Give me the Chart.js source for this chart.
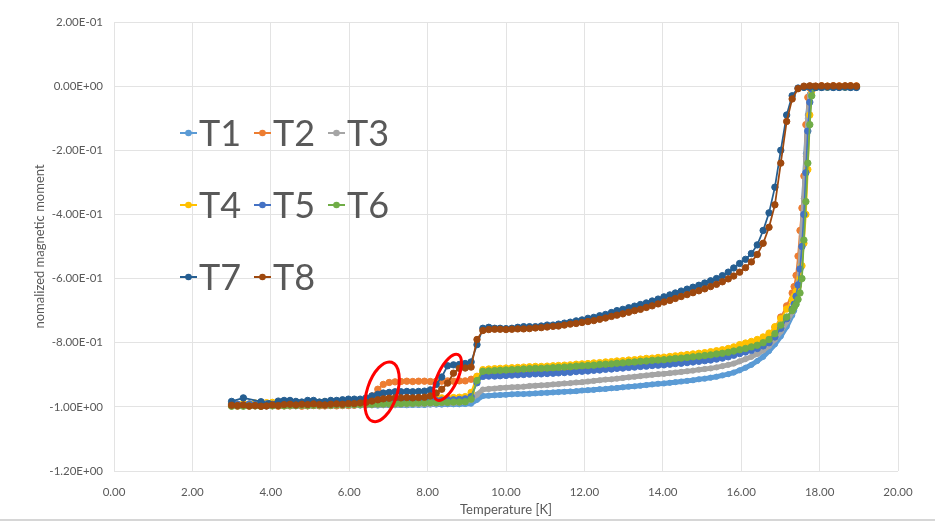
<!DOCTYPE html>
<html>
<head>
<meta charset="utf-8">
<title>Normalized magnetic moment vs temperature</title>
<script src="https://cdn.jsdelivr.net/npm/chart.js@4.4.1/dist/chart.umd.min.js"></script>
<style>
  html, body { margin: 0; padding: 0; background: #ffffff; }
  #wrap { position: relative; width: 935px; height: 522px; }
</style>
</head>
<body>
<div id="wrap"><canvas id="chart" width="935" height="522"></canvas></div>
<script>
// Temperature points of the stepped sweep (K)
const tempSweep = [
  3.00, 3.15, 3.30, 3.45, 3.60, 3.75, 3.89, 4.04, 4.19, 4.34,
  4.49, 4.64, 4.79, 4.94, 5.09, 5.24, 5.38, 5.53, 5.68, 5.83,
  5.98, 6.13, 6.28, 6.43, 6.58, 6.73, 6.87, 7.02, 7.17, 7.32,
  7.47, 7.62, 7.77, 7.92, 8.07, 8.22, 8.36, 8.51, 8.66, 8.81,
  8.96, 9.11, 9.26, 9.41, 9.56, 9.71, 9.85, 10.00, 10.15, 10.30,
  10.45, 10.60, 10.75, 10.90, 11.05, 11.20, 11.34, 11.49, 11.64, 11.79,
  11.94, 12.09, 12.24, 12.39, 12.54, 12.69, 12.83, 12.98, 13.13, 13.28,
  13.43, 13.58, 13.73, 13.88, 14.03, 14.18, 14.32, 14.47, 14.62, 14.77,
  14.92, 15.07, 15.22, 15.37, 15.52, 15.67, 15.81, 15.96, 16.11, 16.26,
  16.41, 16.56, 16.71, 16.86, 17.01, 17.16, 17.30, 17.45, 17.60, 17.75,
  17.90, 18.05, 18.20, 18.35, 18.50, 18.65, 18.79, 18.94
];
// T7 starts with a few irregular points before joining the sweep
const tempSweepT7 = [3.00, 3.30, 3.75, 3.95].concat(tempSweep.slice(8));
// T1..T6: same sweep, finer steps through the transition
const tempFine = tempSweep.slice(0, 97).concat([
  17.35, 17.40, 17.45, 17.50, 17.55, 17.60, 17.65, 17.70, 17.75, 17.80, 17.85, 17.90,
  18.05, 18.20, 18.35, 18.50, 18.65, 18.79, 18.94
]);

const seriesNames = ['T1', 'T2', 'T3', 'T4', 'T5', 'T6', 'T7', 'T8'];

const momentT1 = [
  -0.998,-0.999,-0.998,-0.999,-0.998,-0.998,-0.999,-0.998,-0.998,-0.997,
  -0.998,-0.998,-0.997,-0.998,-0.997,-0.997,-0.998,-0.997,-0.997,-0.996,
  -0.997,-0.996,-0.996,-0.996,-0.995,-0.996,-0.995,-0.995,-0.995,-0.994,
  -0.995,-0.994,-0.994,-0.994,-0.993,-0.993,-0.993,-0.992,-0.992,-0.992,
  -0.991,-0.990,-0.978,-0.966,-0.965,-0.964,-0.963,-0.962,-0.961,-0.960,
  -0.960,-0.959,-0.958,-0.957,-0.956,-0.955,-0.954,-0.953,-0.952,-0.951,
  -0.949,-0.948,-0.947,-0.945,-0.944,-0.942,-0.941,-0.939,-0.937,-0.936,
  -0.934,-0.932,-0.930,-0.928,-0.927,-0.925,-0.923,-0.921,-0.919,-0.917,
  -0.914,-0.912,-0.909,-0.906,-0.902,-0.898,-0.893,-0.886,-0.878,-0.869,
  -0.857,-0.844,-0.826,-0.805,-0.780,-0.750,-0.715,
  -0.700,-0.675,-0.635,-0.570,-0.470,-0.350,-0.210,-0.090,-0.025,-0.006,-0.005,-0.005,
  -0.005,-0.004,-0.005,-0.005,-0.004,-0.005,-0.005
];
const momentT2 = [
  -0.997,-0.998,-0.996,-0.998,-0.997,-0.998,-0.997,-0.996,-0.998,-0.997,
  -0.997,-0.996,-0.998,-0.997,-0.996,-0.997,-0.997,-0.996,-0.997,-0.996,
  -0.996,-0.995,-0.990,-0.982,-0.966,-0.945,-0.930,-0.924,-0.922,-0.921,
  -0.920,-0.921,-0.920,-0.920,-0.921,-0.920,-0.920,-0.919,-0.920,-0.919,
  -0.919,-0.914,-0.905,-0.897,-0.898,-0.898,-0.898,-0.898,-0.897,-0.896,
  -0.895,-0.894,-0.894,-0.893,-0.893,-0.892,-0.891,-0.890,-0.889,-0.887,
  -0.886,-0.885,-0.883,-0.882,-0.880,-0.879,-0.877,-0.876,-0.874,-0.873,
  -0.871,-0.869,-0.868,-0.866,-0.865,-0.863,-0.861,-0.859,-0.857,-0.855,
  -0.853,-0.850,-0.847,-0.844,-0.841,-0.837,-0.833,-0.828,-0.820,-0.811,
  -0.800,-0.789,-0.775,-0.752,-0.720,-0.685,-0.645,
  -0.625,-0.590,-0.530,-0.450,-0.380,-0.280,-0.120,-0.035,-0.006,-0.002,-0.001,0.000,
  0.001,0.000,0.001,0.001,0.000,0.001,0.001
];
const momentT3 = [
  -0.997,-0.996,-0.997,-0.997,-0.996,-0.997,-0.996,-0.997,-0.996,-0.996,
  -0.997,-0.996,-0.996,-0.996,-0.995,-0.996,-0.996,-0.995,-0.995,-0.996,
  -0.995,-0.995,-0.995,-0.994,-0.995,-0.994,-0.994,-0.993,-0.994,-0.993,
  -0.993,-0.992,-0.992,-0.991,-0.991,-0.990,-0.989,-0.988,-0.988,-0.987,
  -0.985,-0.978,-0.962,-0.946,-0.944,-0.943,-0.941,-0.940,-0.939,-0.938,
  -0.937,-0.935,-0.934,-0.933,-0.932,-0.930,-0.929,-0.927,-0.926,-0.924,
  -0.923,-0.921,-0.919,-0.917,-0.915,-0.914,-0.912,-0.910,-0.908,-0.906,
  -0.904,-0.902,-0.900,-0.898,-0.897,-0.895,-0.893,-0.891,-0.889,-0.887,
  -0.884,-0.882,-0.880,-0.877,-0.873,-0.869,-0.865,-0.858,-0.851,-0.844,
  -0.835,-0.824,-0.810,-0.790,-0.765,-0.735,-0.705,
  -0.690,-0.665,-0.625,-0.560,-0.460,-0.350,-0.220,-0.100,-0.030,-0.007,-0.005,-0.005,
  -0.004,-0.005,-0.004,-0.004,-0.005,-0.004,-0.004
];
const momentT4 = [
  -0.990,-0.992,-0.989,-0.991,-0.988,-0.990,-0.987,-0.986,-0.988,-0.985,
  -0.986,-0.985,-0.987,-0.985,-0.984,-0.986,-0.984,-0.983,-0.984,-0.982,
  -0.983,-0.981,-0.982,-0.980,-0.980,-0.979,-0.978,-0.977,-0.977,-0.976,
  -0.976,-0.975,-0.975,-0.974,-0.974,-0.973,-0.972,-0.972,-0.971,-0.970,
  -0.968,-0.955,-0.905,-0.884,-0.882,-0.881,-0.880,-0.879,-0.878,-0.877,
  -0.876,-0.875,-0.874,-0.874,-0.873,-0.872,-0.871,-0.870,-0.869,-0.867,
  -0.866,-0.865,-0.863,-0.862,-0.860,-0.859,-0.857,-0.856,-0.854,-0.853,
  -0.851,-0.849,-0.848,-0.846,-0.845,-0.843,-0.841,-0.839,-0.837,-0.835,
  -0.833,-0.831,-0.828,-0.825,-0.822,-0.818,-0.813,-0.806,-0.801,-0.796,
  -0.790,-0.782,-0.770,-0.750,-0.725,-0.695,-0.665,
  -0.655,-0.640,-0.625,-0.600,-0.560,-0.490,-0.400,-0.260,-0.090,-0.015,-0.003,-0.002,
  -0.002,-0.001,-0.002,-0.002,-0.001,-0.002,-0.002
];
const momentT5 = [
  -0.993,-0.992,-0.994,-0.991,-0.993,-0.992,-0.991,-0.992,-0.990,-0.991,
  -0.990,-0.991,-0.990,-0.989,-0.990,-0.989,-0.989,-0.988,-0.989,-0.988,
  -0.988,-0.987,-0.987,-0.986,-0.985,-0.985,-0.984,-0.984,-0.983,-0.983,
  -0.982,-0.982,-0.981,-0.981,-0.980,-0.980,-0.979,-0.978,-0.978,-0.977,
  -0.975,-0.968,-0.925,-0.905,-0.904,-0.904,-0.903,-0.902,-0.901,-0.900,
  -0.899,-0.898,-0.897,-0.897,-0.896,-0.895,-0.894,-0.893,-0.892,-0.890,
  -0.889,-0.888,-0.886,-0.885,-0.883,-0.882,-0.880,-0.879,-0.877,-0.876,
  -0.874,-0.873,-0.871,-0.870,-0.869,-0.867,-0.865,-0.864,-0.862,-0.860,
  -0.858,-0.856,-0.854,-0.851,-0.848,-0.844,-0.839,-0.834,-0.829,-0.824,
  -0.818,-0.810,-0.800,-0.782,-0.755,-0.725,-0.695,
  -0.680,-0.655,-0.620,-0.570,-0.500,-0.400,-0.270,-0.140,-0.050,-0.010,-0.003,-0.002,
  -0.003,-0.002,-0.003,-0.003,-0.002,-0.003,-0.003
];
const momentT6 = [
  -0.998,-0.997,-0.998,-0.997,-0.997,-0.998,-0.996,-0.997,-0.996,-0.997,
  -0.996,-0.996,-0.995,-0.996,-0.995,-0.995,-0.994,-0.995,-0.994,-0.994,
  -0.993,-0.993,-0.993,-0.992,-0.992,-0.991,-0.991,-0.991,-0.990,-0.990,
  -0.989,-0.989,-0.988,-0.988,-0.987,-0.987,-0.986,-0.986,-0.985,-0.985,
  -0.984,-0.976,-0.918,-0.889,-0.888,-0.887,-0.886,-0.885,-0.884,-0.883,
  -0.882,-0.881,-0.880,-0.880,-0.879,-0.878,-0.877,-0.876,-0.875,-0.873,
  -0.872,-0.871,-0.870,-0.868,-0.867,-0.866,-0.864,-0.863,-0.861,-0.860,
  -0.858,-0.857,-0.855,-0.854,-0.853,-0.851,-0.849,-0.848,-0.846,-0.844,
  -0.842,-0.840,-0.838,-0.835,-0.833,-0.830,-0.826,-0.822,-0.818,-0.813,
  -0.808,-0.800,-0.790,-0.772,-0.745,-0.720,-0.700,
  -0.690,-0.680,-0.665,-0.645,-0.600,-0.480,-0.360,-0.240,-0.120,-0.030,-0.005,-0.003,
  -0.002,-0.003,-0.002,-0.002,-0.003,-0.002,-0.002
];
const momentT7 = [
  -0.983,-0.972,-0.984,-0.990,
  -0.982,-0.980,
  -0.980,-0.983,-0.985,-0.980,-0.980,-0.985,-0.983,-0.980,-0.980,-0.978,
  -0.976,-0.976,-0.976,-0.972,-0.966,-0.961,-0.957,-0.955,-0.953,-0.953,
  -0.952,-0.953,-0.952,-0.951,-0.947,-0.930,-0.907,-0.872,-0.869,-0.868,
  -0.865,-0.860,-0.806,-0.755,-0.752,-0.755,-0.755,-0.756,-0.755,-0.752,
  -0.750,-0.750,-0.750,-0.748,-0.745,-0.745,-0.742,-0.739,-0.736,-0.732,
  -0.729,-0.724,-0.721,-0.716,-0.712,-0.706,-0.700,-0.696,-0.691,-0.686,
  -0.681,-0.676,-0.670,-0.664,-0.657,-0.651,-0.645,-0.639,-0.633,-0.627,
  -0.621,-0.614,-0.607,-0.600,-0.591,-0.580,-0.567,-0.553,-0.540,-0.522,
  -0.495,-0.450,-0.395,-0.315,-0.200,-0.090,-0.030,-0.006,-0.004,-0.003,
  -0.004,-0.004,-0.003,-0.004,-0.004,-0.003,-0.004,-0.004
];
const momentT8 = [
  -0.995,-0.996,-0.994,-0.997,-0.996,-0.998,-0.997,-0.994,-0.996,-0.993,
  -0.992,-0.994,-0.992,-0.993,-0.991,-0.993,-0.994,-0.992,-0.991,-0.992,
  -0.990,-0.990,-0.988,-0.986,-0.982,-0.978,-0.975,-0.973,-0.972,-0.972,
  -0.971,-0.972,-0.971,-0.970,-0.966,-0.957,-0.945,-0.926,-0.895,-0.880,
  -0.879,-0.876,-0.790,-0.762,-0.759,-0.758,-0.758,-0.759,-0.758,-0.757,
  -0.757,-0.756,-0.754,-0.753,-0.751,-0.749,-0.748,-0.745,-0.742,-0.740,
  -0.737,-0.734,-0.731,-0.727,-0.723,-0.718,-0.714,-0.710,-0.705,-0.700,
  -0.696,-0.690,-0.685,-0.679,-0.673,-0.668,-0.662,-0.656,-0.650,-0.644,
  -0.638,-0.632,-0.625,-0.618,-0.610,-0.601,-0.592,-0.580,-0.566,-0.548,
  -0.525,-0.490,-0.440,-0.370,-0.240,-0.110,-0.040,-0.008,0.000,0.001,
  0.000,0.001,0.000,0.001,0.000,0.001,0.001,0.000
];

const xTicks = [0, 2, 4, 6, 8, 10, 12, 14, 16, 18, 20];
const yTicks = [0.2, 0, -0.2, -0.4, -0.6, -0.8, -1.0, -1.2];

// ---- presentation ----
const seriesColors = ['#5B9BD5', '#ED7D31', '#A5A5A5', '#FFC000', '#4472C4', '#70AD47', '#255E91', '#9E480E'];
const seriesTemps = [tempFine, tempFine, tempFine, tempFine, tempFine, tempFine, tempSweepT7, tempSweep];
const seriesMoments = [momentT1, momentT2, momentT3, momentT4, momentT5, momentT6, momentT7, momentT8];
// the two continuous-sweep curves are drawn as a dense band
const bandSeries = ['T1', 'T3'];

const textColor = '#595959';
const gridColor = '#E3E3E3';
const fontFamily = 'Lato, "Open Sans", "DejaVu Sans", sans-serif';

// red rings drawn around the two features (centre in data units, radii in px)
const highlightRings = [
  { t: 6.84, m: -0.953, rx: 15, ry: 31, tilt: 18 },
  { t: 8.51, m: -0.908, rx: 10, ry: 25, tilt: 25 }
];

Chart.defaults.font.family = fontFamily;
Chart.defaults.color = textColor;

function sciLabel(v) {
  const parts = Number(v).toExponential(2).split('e');
  const ex = parseInt(parts[1], 10);
  return parts[0] + 'E' + (ex < 0 ? '-' : '+') + String(Math.abs(ex)).padStart(2, '0');
}

const datasets = seriesNames.map((name, i) => {
  const band = bandSeries.includes(name);
  return {
    label: name,
    data: seriesTemps[i].map((t, j) => ({ x: t, y: seriesMoments[i][j] })),
    borderColor: seriesColors[i],
    backgroundColor: seriesColors[i],
    pointBackgroundColor: seriesColors[i],
    pointBorderColor: seriesColors[i],
    borderWidth: band ? 5 : 1.75,
    pointRadius: band ? 2.6 : 3.2,
    pointBorderWidth: 1,
    tension: 0,
    fill: false,
    order: seriesNames.length - i
  };
});

const whiteBackground = {
  id: 'whiteBackground',
  beforeDraw(chart) {
    const { ctx, width, height } = chart;
    ctx.save();
    ctx.fillStyle = '#ffffff';
    ctx.fillRect(0, 0, width, height);
    ctx.fillStyle = '#D6D6D6';
    ctx.fillRect(0, height - 3, width, 2);
    ctx.restore();
  }
};

const ringPlugin = {
  id: 'rings',
  afterDatasetsDraw(chart) {
    const { ctx, scales } = chart;
    ctx.save();
    ctx.strokeStyle = '#FF0000';
    ctx.lineWidth = 3;
    highlightRings.forEach(r => {
      const cx = scales.x.getPixelForValue(r.t);
      const cy = scales.y.getPixelForValue(r.m);
      ctx.beginPath();
      ctx.ellipse(cx, cy, r.rx, r.ry, r.tilt * Math.PI / 180, 0, Math.PI * 2);
      ctx.stroke();
    });
    ctx.restore();
  }
};

// legend drawn inside the plot, three entries per row
const insetLegend = {
  id: 'insetLegend',
  afterDraw(chart) {
    const { ctx, chartArea } = chart;
    const x0 = chartArea.left + 66, y0 = chartArea.top + 111, dx = 74, dy = 72;
    ctx.save();
    ctx.font = '36px ' + fontFamily;
    ctx.textBaseline = 'alphabetic';
    ctx.textAlign = 'left';
    chart.data.datasets.forEach((ds, i) => {
      const x = x0 + (i % 3) * dx;
      const y = y0 + Math.floor(i / 3) * dy;
      ctx.strokeStyle = ds.borderColor;
      ctx.lineWidth = 2;
      ctx.beginPath();
      ctx.moveTo(x, y);
      ctx.lineTo(x + 17, y);
      ctx.stroke();
      ctx.fillStyle = ds.borderColor;
      ctx.beginPath();
      ctx.arc(x + 8.5, y, 3.3, 0, Math.PI * 2);
      ctx.fill();
      ctx.fillStyle = textColor;
      ctx.fillText(ds.label, x + 19, y + 13);
    });
    ctx.restore();
  }
};

new Chart(document.getElementById('chart'), {
  type: 'line',
  data: { datasets },
  plugins: [whiteBackground, ringPlugin, insetLegend],
  options: {
    responsive: false,
    animation: false,
    devicePixelRatio: 1,
    layout: { padding: { top: 22, right: 37, bottom: 0, left: 0 } },
    plugins: { legend: { display: false }, tooltip: { enabled: false } },
    scales: {
      x: {
        type: 'linear',
        min: xTicks[0],
        max: xTicks[xTicks.length - 1],
        afterBuildTicks(scale) { scale.ticks = xTicks.map(v => ({ value: v })); },
        afterFit(scale) { scale.height = 51; },
        ticks: { callback: v => Number(v).toFixed(2), padding: 14, color: textColor, font: { size: 11.5 }, maxRotation: 0 },
        grid: { color: gridColor, drawTicks: false },
        border: { display: false },
        title: { display: true, text: 'Temperature [K]', color: textColor, font: { size: 13 }, padding: { top: 0, bottom: 4 } }
      },
      y: {
        type: 'linear',
        min: -1.2,
        max: 0.2,
        afterBuildTicks(scale) { scale.ticks = yTicks.map(v => ({ value: v })); },
        afterFit(scale) { scale.width = 114; },
        ticks: { callback: v => sciLabel(v), padding: 11, color: textColor, font: { size: 11.5 } },
        grid: { color: gridColor, drawTicks: false },
        border: { display: false },
        title: { display: true, text: 'nomalized magnetic moment', color: textColor, font: { size: 13 }, padding: { top: 32, bottom: 0 } }
      }
    }
  }
});
</script>
</body>
</html>
